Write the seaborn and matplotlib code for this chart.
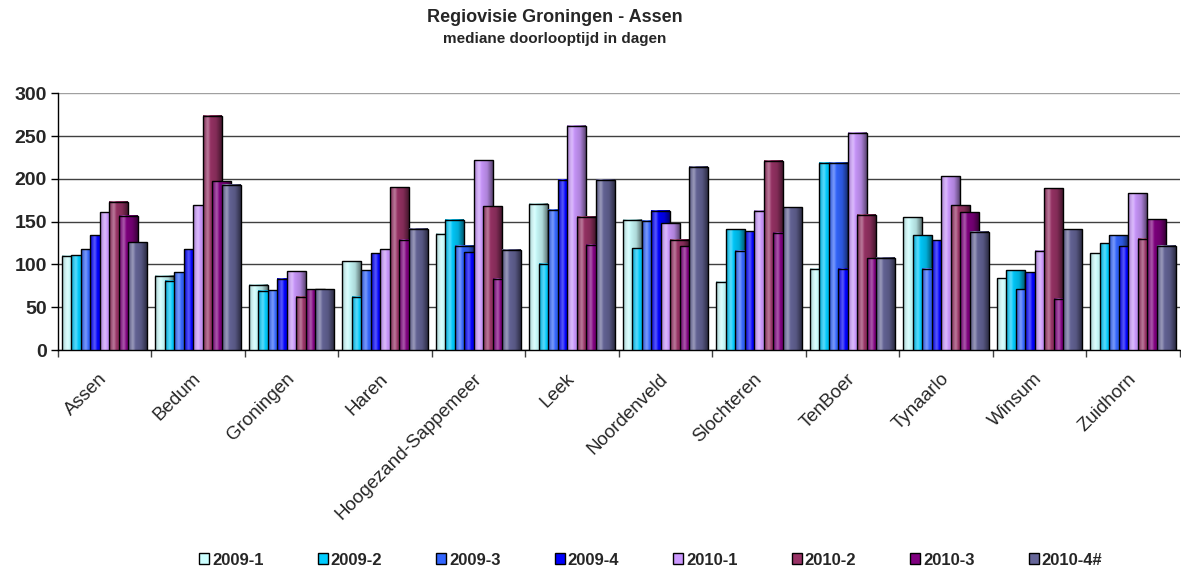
import numpy as np
import pandas as pd
import seaborn as sns
import matplotlib.pyplot as plt
from matplotlib.patches import Rectangle
from matplotlib.colors import to_rgb
from matplotlib.transforms import ScaledTranslation

gemeenten = ['Assen', 'Bedum', 'Groningen', 'Haren', 'Hoogezand-Sappemeer', 'Leek',
             'Noordenveld', 'Slochteren', 'TenBoer', 'Tynaarlo', 'Winsum', 'Zuidhorn']
perioden = ['2009-1', '2009-2', '2009-3', '2009-4', '2010-1', '2010-2', '2010-3', '2010-4#']

v2009_1 = [110, 87, 76, 104, 136, 171, 152, 80, 95, 155, 84, 113]
v2009_2 = [111, 81, 69, 62, 152, 101, 119, 141, 219, 134, 93, 125]
v2009_3 = [118, 91, 70, 93, 122, 164, 151, 116, 219, 95, 71, 134]
v2009_4 = [134, 118, 83, 113, 114, 199, 163, 139, 95, 128, 91, 121]
v2010_1 = [161, 169, 92, 118, 222, 262, 148, 163, 254, 203, 116, 183]
v2010_2 = [173, 274, 62, 190, 168, 156, 129, 221, 158, 169, 189, 130]
v2010_3 = [157, 197, 71, 129, 83, 123, 121, 137, 107, 161, 60, 153]
v2010_4 = [126, 193, 71, 142, 117, 199, 214, 167, 108, 138, 141, 122]

kleuren = ['#CCFFFF', '#00CCFF', '#3366FF', '#0000FF', '#CC99FF', '#993366', '#800080', '#666699']

reeksen = [v2009_1, v2009_2, v2009_3, v2009_4, v2010_1, v2010_2, v2010_3, v2010_4]
df = pd.DataFrame({
    'gemeente': np.tile(gemeenten, len(perioden)),
    'periode': np.repeat(perioden, len(gemeenten)),
    'dagen': np.concatenate(reeksen),
})

sns.set_theme(style='white')
plt.rcParams['font.family'] = ['Liberation Sans', 'DejaVu Sans']

fig = plt.figure(figsize=(11.81, 5.68), dpi=100)
ax = fig.add_axes([0.0491, 0.3838, 0.9500, 0.4519])

stap = 0.1016
sns.barplot(data=df, x='gemeente', y='dagen', hue='periode', order=gemeenten,
            hue_order=perioden, palette=kleuren, width=stap * 8, errorbar=None,
            edgecolor='black', linewidth=1.0, legend=False, ax=ax)

# Excel-achtige overlap en verloop per staaf
for i, cont in enumerate(ax.containers):
    basis = np.array(to_rgb(kleuren[i]))
    t = np.linspace(0, 1, 64)
    f = np.interp(t, [0, 0.08, 0.3, 0.7, 1.0], [0.7, 0.85, 1.0, 0.85, 0.45])
    wit = np.interp(t, [0, 0.25, 0.4, 1.0], [0.0, 0.35, 0.0, 0.0])
    grad = basis[None, :] * f[:, None]
    grad = grad + (1 - grad) * wit[:, None]
    grad = grad[None, :, :]
    for p in cont.patches:
        x0 = p.get_x() - stap / 2
        w = stap * 2
        h = p.get_height()
        p.set_x(x0)
        p.set_width(w)
        p.set_facecolor('none')
        p.set_zorder(3 + i * 2 + 1)
        ax.imshow(grad, extent=[x0, x0 + w, 0, h], aspect='auto',
                  interpolation='bilinear', zorder=3 + i * 2)

ax.set_xlim(-0.5, len(gemeenten) - 0.5)
ax.set_ylim(0, 300)
ax.set_yticks(range(0, 301, 50))
ax.set_yticklabels([str(v) for v in range(0, 301, 50)], fontsize=14, fontweight='bold')
ax.set_xticks(range(len(gemeenten)))
ax.set_xticklabels(gemeenten, rotation=45, ha='right', va='center',
                   rotation_mode='anchor', fontsize=13.5)
verschuif = ScaledTranslation(-6 / 100, 0, fig.dpi_scale_trans)
for lab in ax.get_xticklabels():
    lab.set_transform(lab.get_transform() + verschuif)
ax.set_xticks(np.arange(-0.5, len(gemeenten), 1), minor=True)
ax.tick_params(axis='x', which='major', length=0, pad=19)
ax.tick_params(axis='x', which='minor', length=5, width=1, color='#404040', direction='out', bottom=True)
ax.tick_params(axis='y', length=5, width=1, color='black', direction='out', left=True, pad=3)
ax.set_xlabel('')
ax.set_ylabel('')

ax.yaxis.grid(True, color='#404040', linewidth=1.0)
ax.get_ygridlines()[-1].set_color('#A0A0A0')
ax.set_axisbelow(True)
for kant in ['top', 'right']:
    ax.spines[kant].set_visible(False)
ax.spines['left'].set_color('black')
ax.spines['bottom'].set_color('black')
ax.spines['left'].set_linewidth(1.0)
ax.spines['bottom'].set_linewidth(1.0)

handles = [Rectangle((0, 0), 1, 1, facecolor=k, edgecolor='black', linewidth=1) for k in kleuren]
fig.legend(handles, perioden, loc='center left', bbox_to_anchor=(199 / 1181, 0.014), ncol=8,
           frameon=False, borderpad=0, borderaxespad=0, handlelength=0.6, handleheight=0.6,
           handletextpad=0.2, columnspacing=3.22, prop={'weight': 'bold', 'size': 12})

fig.text(0.47, 0.970, 'Regiovisie Groningen - Assen', ha='center', va='center',
         fontsize=13, fontweight='bold')
fig.text(0.47, 0.931, 'mediane doorlooptijd in dagen', ha='center', va='center',
         fontsize=11, fontweight='bold')

fig.savefig('out.png', dpi=100)
